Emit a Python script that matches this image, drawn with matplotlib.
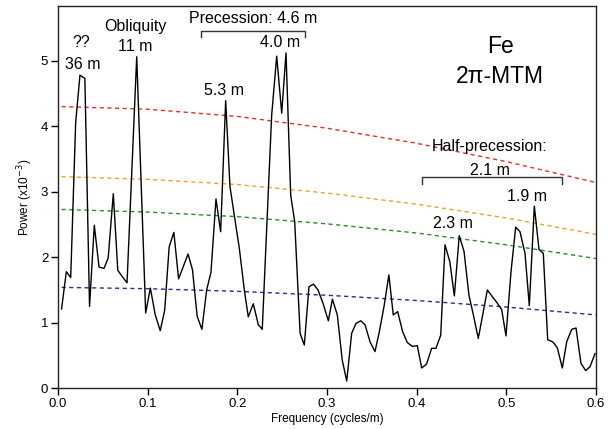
import matplotlib
matplotlib.use("Agg")
import matplotlib.pyplot as plt

plt.rcParams['font.family'] = ['Liberation Sans', 'DejaVu Sans']

# MTM spectrum (frequency in cycles/m, power x10^-3)
freq = [0.004, 0.0093, 0.0142, 0.0197, 0.0245, 0.0300, 0.0352, 0.0405, 0.0458, 0.0513,
        0.0560, 0.0617, 0.0667, 0.0720, 0.0770, 0.0878, 0.0978, 0.1030, 0.1085, 0.1140,
        0.1190, 0.1240, 0.1292, 0.1345, 0.1398, 0.1450, 0.1500, 0.1552, 0.1605, 0.1658,
        0.1706, 0.1762, 0.1814, 0.1870, 0.1918, 0.1974, 0.2022, 0.2078, 0.2122, 0.2178,
        0.2234, 0.2278, 0.2383, 0.2439, 0.2495, 0.2543, 0.2595, 0.2640, 0.2700, 0.2747,
        0.2799, 0.2850, 0.2900, 0.2955, 0.3015, 0.3060, 0.3115, 0.3170, 0.3220, 0.3275,
        0.3323, 0.3376, 0.3424, 0.3480, 0.3535, 0.3583, 0.3636, 0.3690, 0.3739, 0.3788,
        0.3844, 0.3895, 0.3950, 0.4007, 0.4056, 0.4110, 0.4167, 0.4215, 0.4268, 0.4316,
        0.4370, 0.4420, 0.4475, 0.4528, 0.4583, 0.4632, 0.4687, 0.4736, 0.4788, 0.4843,
        0.4899, 0.4948, 0.4996, 0.5052, 0.5104, 0.5152, 0.5208, 0.5256, 0.5312, 0.5364,
        0.5412, 0.5461, 0.5517, 0.5568, 0.5624, 0.5673, 0.5729, 0.5777, 0.5832, 0.5885,
        0.5933, 0.5989]
power = [1.21, 1.78, 1.69, 4.05, 4.78, 4.73, 1.25, 2.49, 1.85, 1.83,
         1.99, 2.97, 1.80, 1.70, 1.61, 5.06, 1.15, 1.53, 1.12, 0.88,
         1.19, 2.16, 2.38, 1.67, 1.86, 2.05, 1.81, 1.10, 0.90, 1.50,
         1.77, 2.89, 2.39, 4.39, 3.08, 2.57, 2.14, 1.50, 1.09, 1.29,
         0.97, 0.90, 4.17, 5.07, 4.20, 5.12, 2.95, 2.54, 0.84, 0.66,
         1.55, 1.59, 1.50, 1.30, 1.03, 1.36, 1.12, 0.43, 0.11, 0.84,
         0.99, 1.03, 0.97, 0.71, 0.56, 0.86, 1.25, 1.73, 1.12, 1.17,
         0.86, 0.70, 0.64, 0.65, 0.31, 0.37, 0.61, 0.61, 0.81, 2.19,
         1.93, 1.41, 2.33, 2.09, 1.42, 1.12, 0.76, 1.12, 1.50, 1.40,
         1.30, 1.20, 0.80, 1.78, 2.46, 2.39, 2.06, 1.26, 2.78, 2.12,
         2.06, 0.74, 0.71, 0.62, 0.31, 0.71, 0.90, 0.92, 0.38, 0.27,
         0.33, 0.53]

# confidence levels (red-noise background curves)
conf_freq = [0.004, 0.1, 0.2, 0.3, 0.4, 0.5, 0.6]
conf_red = [4.30, 4.26, 4.15, 3.97, 3.74, 3.46, 3.14]
conf_orange = [3.23, 3.19, 3.11, 2.98, 2.81, 2.60, 2.35]
conf_green = [2.73, 2.69, 2.62, 2.51, 2.37, 2.19, 1.98]
conf_blue = [1.54, 1.52, 1.48, 1.42, 1.34, 1.24, 1.12]

fig = plt.figure(figsize=(6.09, 4.29), dpi=100)
ax = fig.add_axes([0.0952, 0.0949, 0.8835, 0.8918])

dash = dict(linestyle=(0, (3, 2.5)), linewidth=1.0)
ax.plot(conf_freq, conf_red, color='#e0302c', **dash)
ax.plot(conf_freq, conf_orange, color='#f0a030', **dash)
ax.plot(conf_freq, conf_green, color='#2e8a2e', **dash)
ax.plot(conf_freq, conf_blue, color='#2a2a9a', **dash)

ax.plot(freq, power, color='black', linewidth=1.0)

ax.set_xlim(0, 0.6)
ax.set_ylim(0, 5.84)
ax.set_xticks([0.0, 0.1, 0.2, 0.3, 0.4, 0.5, 0.6])
ax.set_xticklabels(['0.0', '0.1', '0.2', '0.3', '0.4', '0.5', '0.6'])
ax.set_yticks([0, 1, 2, 3, 4, 5])
ax.tick_params(direction='out', length=5, width=1, labelsize=9.5, pad=2)
for s in ax.spines.values():
    s.set_linewidth(1.0)
    s.set_color('#222222')

ax.set_xlabel('Frequency (cycles/m)', fontsize=8.5, labelpad=2)
ax.set_ylabel('Power (x10$^{-3}$)', fontsize=8.5, labelpad=4)

fs = 11.5
ax.text(0.0257, 5.28, '??', ha='center', va='center', fontsize=fs)
ax.text(0.0275, 4.94, '36 m', ha='center', va='center', fontsize=fs)
ax.text(0.0859, 5.53, 'Obliquity', ha='center', va='center', fontsize=fs)
ax.text(0.0859, 5.22, '11 m', ha='center', va='center', fontsize=fs)
ax.text(0.218, 5.64, 'Precession: 4.6 m', ha='center', va='center', fontsize=fs)
ax.text(0.2476, 5.28, '4.0 m', ha='center', va='center', fontsize=fs)
ax.text(0.185, 4.54, '5.3 m', ha='center', va='center', fontsize=fs)
ax.text(0.4818, 3.69, 'Half-precession:', ha='center', va='center', fontsize=fs)
ax.text(0.4818, 3.33, '2.1 m', ha='center', va='center', fontsize=fs)
ax.text(0.4408, 2.51, '2.3 m', ha='center', va='center', fontsize=fs)
ax.text(0.5227, 2.925, '1.9 m', ha='center', va='center', fontsize=fs)
ax.text(0.494, 5.215, 'Fe', ha='center', va='center', fontsize=16.5)
ax.text(0.493, 4.76, '2π-MTM', ha='center', va='center', fontsize=16.5)

# brackets
ax.plot([0.160, 0.160, 0.275, 0.275], [5.36, 5.455, 5.455, 5.36], color='#333333', linewidth=1.0)
ax.plot([0.4056, 0.4056, 0.5624, 0.5624], [3.12, 3.23, 3.23, 3.12], color='#333333', linewidth=1.0)

fig.savefig('out.png', dpi=100)
